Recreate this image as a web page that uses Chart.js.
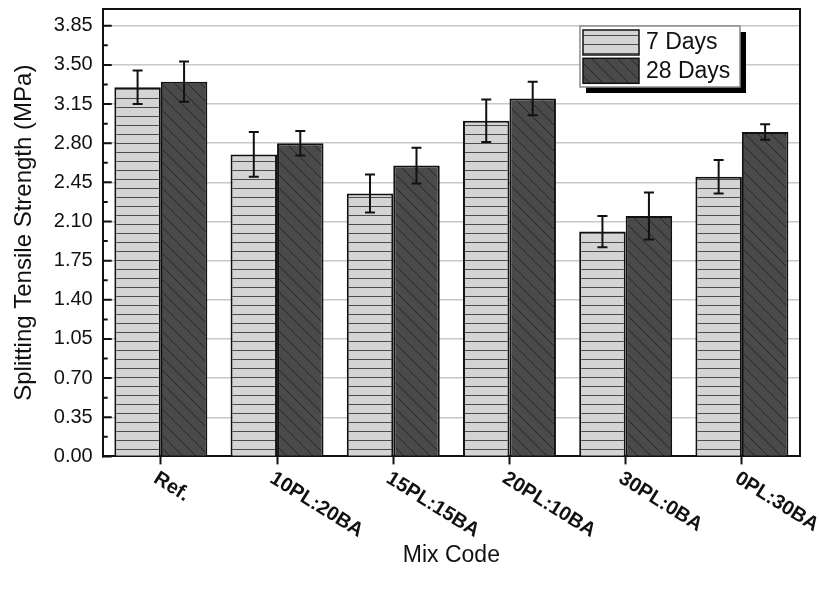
<!DOCTYPE html>
<html>
<head>
<meta charset="utf-8">
<script src="https://cdn.jsdelivr.net/npm/chart.js@4.4.1/dist/chart.umd.min.js"></script>
<style>
  body { margin: 0; background: #fff; }
  #wrap { width: 819px; height: 589px; }
</style>
</head>
<body>
<div id="wrap"><canvas id="chart"></canvas></div>
<script>
'use strict';

const mixCodes = ['Ref.', '10PL:20BA', '15PL:15BA', '20PL:10BA', '30PL:0BA', '0PL:30BA'];
const days7 = [3.30, 2.70, 2.35, 3.00, 2.01, 2.50];
const days7Err = [0.15, 0.20, 0.17, 0.19, 0.14, 0.15];
const days28 = [3.35, 2.80, 2.60, 3.20, 2.15, 2.90];
const days28Err = [0.18, 0.11, 0.16, 0.15, 0.21, 0.07];
const yTicks = [0, 0.35, 0.70, 1.05, 1.40, 1.75, 2.10, 2.45, 2.80, 3.15, 3.50, 3.85];

const FONT = 'Liberation Sans, Arial, sans-serif';
Chart.defaults.font.family = FONT;
Chart.defaults.color = '#111';

const ctx = document.getElementById('chart').getContext('2d');

// horizontal line hatch (7 days)
function hatchLines() {
  let c = document.createElement('canvas');
  c.width = 9;
  c.height = 9;
  let g = c.getContext('2d');
  g.fillStyle = '#d4d4d4';
  g.fillRect(0, 0, 9, 9);
  g.fillStyle = '#4d4d4d';
  g.fillRect(0, 8, 9, 1);
  return ctx.createPattern(c, 'repeat');
}

// diagonal hatch (28 days)
function hatchDiag() {
  const s = 13;
  let c = document.createElement('canvas');
  c.width = s;
  c.height = s;
  let g = c.getContext('2d');
  g.fillStyle = '#4a4a4a';
  g.fillRect(0, 0, s, s);
  g.strokeStyle = '#262626';
  g.lineWidth = 1;
  g.beginPath();
  for (let k = -1; k <= 1; k++) {
    g.moveTo(k * s, 0);
    g.lineTo(k * s + s, s);
  }
  g.stroke();
  return ctx.createPattern(c, 'repeat');
}

// error bars on top of bars
const errorBars = {
  id: 'errorBars',
  afterDatasetsDraw(chart) {
    const c = chart.ctx;
    const y = chart.scales.y;
    c.save();
    c.strokeStyle = '#111';
    c.lineWidth = 2;
    chart.data.datasets.forEach((ds, d) => {
      chart.getDatasetMeta(d).data.forEach((bar, i) => {
        const top = y.getPixelForValue(ds.data[i] + ds.errors[i]);
        const bot = y.getPixelForValue(ds.data[i] - ds.errors[i]);
        c.beginPath();
        c.moveTo(bar.x, top);
        c.lineTo(bar.x, bot);
        c.moveTo(bar.x - 5, top);
        c.lineTo(bar.x + 5, top);
        c.moveTo(bar.x - 5, bot);
        c.lineTo(bar.x + 5, bot);
        c.stroke();
      });
    });
    c.restore();
  }
};

// frame, inward y ticks, slanted x labels, boxed legend
const decorations = {
  id: 'decorations',
  afterDraw(chart) {
    const c = chart.ctx;
    const ca = chart.chartArea;
    const y = chart.scales.y;
    const xs = chart.scales.x;
    c.save();

    c.strokeStyle = '#111';
    c.lineWidth = 2;
    c.beginPath();
    c.moveTo(ca.left, ca.top);
    c.lineTo(ca.right, ca.top);
    c.lineTo(ca.right, ca.bottom);
    c.stroke();

    c.beginPath();
    yTicks.forEach(v => {
      let py = y.getPixelForValue(v);
      c.moveTo(ca.left, py);
      c.lineTo(ca.left + 9, py);
      let pm = y.getPixelForValue(v + 0.175);
      if (pm > ca.top) {
        c.moveTo(ca.left, pm);
        c.lineTo(ca.left + 5, pm);
      }
    });
    c.stroke();

    c.fillStyle = '#111';
    c.font = 'bold 20px ' + FONT;
    c.textAlign = 'left';
    c.textBaseline = 'top';
    mixCodes.forEach((lab, i) => {
      const px = xs.getPixelForValue(i);
      c.save();
      c.translate(px, ca.bottom + 12);
      c.rotate(32 * Math.PI / 180);
      c.fillText(lab, 0, 0);
      c.restore();
    });

    const lx = ca.right - 220;
    const ly = ca.top + 17;
    const lw = 160;
    const lh = 61;
    c.fillStyle = '#000';
    c.fillRect(lx + 6, ly + 6, lw, lh);
    c.fillStyle = '#fff';
    c.fillRect(lx, ly, lw, lh);
    c.strokeStyle = '#8a8a8a';
    c.lineWidth = 1.5;
    c.strokeRect(lx, ly, lw, lh);
    c.font = '23px ' + FONT;
    c.textBaseline = 'middle';
    chart.data.datasets.forEach((ds, d) => {
      const sy = ly + 4 + d * 28.3;
      c.fillStyle = ds.backgroundColor;
      c.fillRect(lx + 3, sy, 56, 25);
      c.strokeStyle = '#111';
      c.lineWidth = 1.5;
      c.strokeRect(lx + 3, sy, 56, 25);
      c.fillStyle = '#111';
      c.fillText(ds.label, lx + 66, sy + 13);
    });

    c.restore();
  }
};

new Chart(ctx, {
  type: 'bar',
  data: {
    labels: mixCodes,
    datasets: [
      {
        label: '7 Days',
        data: days7,
        errors: days7Err,
        backgroundColor: hatchLines(),
        borderColor: '#111',
        borderWidth: 2,
        categoryPercentage: 0.8,
        barPercentage: 1
      },
      {
        label: '28 Days',
        data: days28,
        errors: days28Err,
        backgroundColor: hatchDiag(),
        borderColor: '#111',
        borderWidth: 2,
        categoryPercentage: 0.8,
        barPercentage: 1
      }
    ]
  },
  options: {
    responsive: true,
    maintainAspectRatio: false,
    animation: false,
    layout: { padding: { top: 9, right: 19, left: 0, bottom: 0 } },
    plugins: {
      legend: { display: false },
      tooltip: { enabled: false }
    },
    scales: {
      x: {
        grid: { offset: false, drawOnChartArea: false, tickLength: 8, tickWidth: 2, tickColor: '#111' },
        border: { color: '#111', width: 2 },
        ticks: { display: false },
        title: {
          display: true,
          text: 'Mix Code',
          font: { size: 23 },
          padding: { top: 77, bottom: 20 }
        }
      },
      y: {
        min: 0,
        max: 4.0,
        afterBuildTicks: scale => {
          scale.ticks = yTicks.map(v => ({ value: v }));
        },
        afterFit: scale => {
          scale.paddingTop = 0;
          scale.paddingBottom = 0;
        },
        grid: {
          color: c => (c.tick && c.tick.value === 0 ? 'rgba(0,0,0,0)' : '#c8c8c8'),
          lineWidth: 1.5,
          drawTicks: false
        },
        border: { color: '#111', width: 2 },
        ticks: {
          padding: 10,
          font: { size: 20, lineHeight: 1 },
          callback: v => v.toFixed(2)
        },
        title: {
          display: true,
          text: 'Splitting Tensile Strength (MPa)',
          font: { size: 24 },
          padding: { top: 10, bottom: 5 }
        }
      }
    }
  },
  plugins: [errorBars, decorations]
});
</script>
</body>
</html>
